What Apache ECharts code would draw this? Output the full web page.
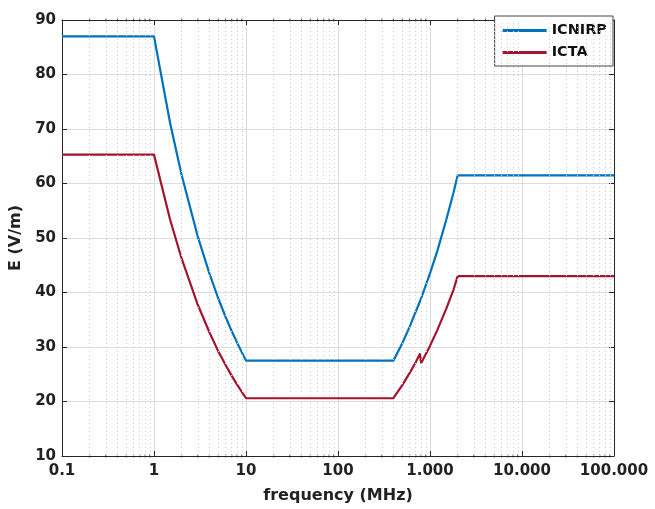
<!DOCTYPE html>
<html>
<head>
<meta charset="utf-8">
<script src="https://cdn.jsdelivr.net/npm/echarts@6/dist/echarts.min.js"></script>
<style>
  html, body { margin: 0; padding: 0; background: #fff; }
  #chart { width: 655px; height: 509px; }
</style>
</head>
<body>
<div id="chart"></div>
<script>
// frequency (MHz) / field strength (V/m)
const icnirpFreq = [0.1, 1, 1.5, 2, 3, 4, 5, 6, 7, 8, 10, 400, 500, 600, 800, 1000, 1200, 1500, 1800, 2000, 100000]
const icnirpE = [87, 87, 71.0, 61.5, 50.2, 43.5, 38.9, 35.5, 32.9, 30.8, 27.5, 27.5, 30.7, 33.7, 38.9, 43.5, 47.6, 53.3, 58.3, 61.5, 61.5]

const ictaFreq = [0.1, 1, 1.5, 2, 3, 4, 5, 6, 7, 8, 10, 400, 500, 600, 700, 780, 800, 1000, 1200, 1500, 1800, 2000, 100000]
const ictaE = [65.3, 65.3, 53.3, 46.2, 37.7, 32.7, 29.2, 26.7, 24.7, 23.1, 20.6, 20.6, 23.0, 25.2, 27.2, 28.8, 27.0, 30.2, 33.1, 37.0, 40.5, 43.0, 43.0]

const xTickLabels = ['0.1', '1', '10', '100', '1.000', '10.000', '100.000']
const minorFreqs = []
for (let d = 0.1; d < 100000; d *= 10) {
  for (let k = 2; k <= 9; k++) minorFreqs.push(+(d * k).toPrecision(3))
}

const FONT = 'DejaVu Sans'
const AXIS_COLOR = '#262626'

const chart = echarts.init(document.getElementById('chart'))

const xBase = {
  type: 'log',
  logBase: 10,
  min: 0.1,
  max: 100000,
  axisLine: { show: true, lineStyle: { color: AXIS_COLOR, width: 1 } },
  axisTick: { show: true, inside: true, length: 5, lineStyle: { color: AXIS_COLOR } },
  minorTick: { show: false },
  splitLine: { show: false }
}
const yBase = {
  type: 'value',
  min: 10,
  max: 90,
  interval: 10,
  axisLine: { show: true, lineStyle: { color: AXIS_COLOR, width: 1 } },
  axisTick: { show: true, inside: true, length: 5, lineStyle: { color: AXIS_COLOR } },
  splitLine: { show: false }
}

chart.setOption({
  animation: false,
  backgroundColor: '#fff',
  grid: { left: 62, right: 41, top: 20, bottom: 53 },
  legend: {
    right: 42,
    top: 16,
    orient: 'vertical',
    itemWidth: 44,
    itemHeight: 3,
    itemGap: 7,
    padding: [7, 6, 6, 8],
    borderColor: '#444',
    borderWidth: 1,
    backgroundColor: '#fff',
    icon: 'rect',
    textStyle: { fontFamily: FONT, fontWeight: 'bold', fontSize: 14.5, color: '#111' },
    data: ['ICNIRP', 'ICTA']
  },
  xAxis: [
    Object.assign({}, xBase, {
      position: 'bottom',
      name: 'frequency (MHz)',
      nameLocation: 'middle',
      nameGap: 32,
      nameTextStyle: { fontFamily: FONT, fontWeight: 'bold', fontSize: 16, color: '#222' },
      axisLabel: {
        fontFamily: FONT, fontWeight: 'bold', fontSize: 15, color: '#222', margin: 8,
        formatter: (v) => xTickLabels[Math.round(Math.log10(v)) + 1]
      },
      splitLine: { show: true, lineStyle: { color: '#dcdcdc', width: 1 } }
    }),
    Object.assign({}, xBase, { position: 'top', axisLabel: { show: false } })
  ],
  yAxis: [
    Object.assign({}, yBase, {
      position: 'left',
      name: 'E (V/m)',
      nameLocation: 'middle',
      nameGap: 35,
      nameTextStyle: { fontFamily: FONT, fontWeight: 'bold', fontSize: 16, color: '#222' },
      axisLabel: { fontFamily: FONT, fontWeight: 'bold', fontSize: 15, color: '#222', margin: 6 },
      splitLine: { show: true, lineStyle: { color: '#dcdcdc', width: 1 } }
    }),
    Object.assign({}, yBase, { position: 'right', axisLabel: { show: false } })
  ],
  series: [
    {
      // minor grid (2..9 of each decade) and minor ticks at bottom and top
      name: 'minor',
      type: 'scatter',
      silent: true,
      symbol: 'rect',
      symbolSize: [1, 3],
      itemStyle: { color: AXIS_COLOR },
      data: minorFreqs.map((f) => [f, 10]).concat(minorFreqs.map((f) => [f, 90])),
      markLine: {
        silent: true,
        symbol: 'none',
        label: { show: false },
        lineStyle: { type: [1, 3], color: '#cfcfcf', width: 1 },
        data: minorFreqs.map((f) => ({ xAxis: f }))
      },
      z: 1
    },
    {
      name: 'ICNIRP',
      type: 'line',
      showSymbol: false,
      symbol: 'none',
      color: '#0072BD',
      lineStyle: { width: 2.2 },
      data: icnirpFreq.map((f, i) => [f, icnirpE[i]]),
      z: 3
    },
    {
      name: 'ICTA',
      type: 'line',
      showSymbol: false,
      symbol: 'none',
      color: '#A2142F',
      lineStyle: { width: 2.2 },
      data: ictaFreq.map((f, i) => [f, ictaE[i]]),
      z: 3
    }
  ]
})
</script>
</body>
</html>
